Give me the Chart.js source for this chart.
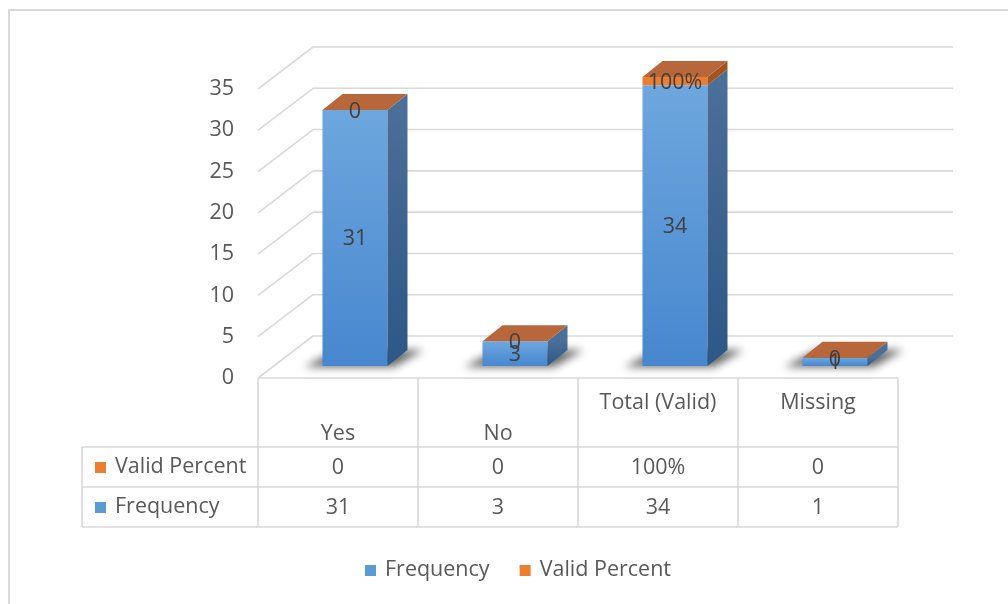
<!DOCTYPE html>
<html>
<head>
<meta charset="utf-8">
<script src="https://cdn.jsdelivr.net/npm/chart.js@4.4.1/dist/chart.umd.min.js"></script>
<style>
  html, body { margin: 0; padding: 0; background: #ffffff; }
  #wrap { width: 1008px; height: 604px; position: relative; }
</style>
</head>
<body>
<div id="wrap"><canvas id="chart" width="1008" height="604"></canvas></div>
<script>
// Category labels (header cells of the data table; blank line keeps wrapping as laid out)
const categories = [['', 'Yes'], ['', 'No'], ['Total (Valid)', ''], ['Missing', '']];
// Series values
const frequency = [31, 3, 34, 1];
const validPercent = [0, 0, 1, 0];
const seriesNames = ['Frequency', 'Valid Percent'];
// Value axis
const yMin = 0, yMax = 35, yStep = 5;

const FONT = '"Open Sans", "DejaVu Sans", sans-serif';
const FSIZE = 21.5;
const TEXT = '#595959';
const GRID = '#d9d9d9';
const BLUE = '#5b9bd5';
const ORANGE = '#ed7d31';

// 3D geometry: wall depth, bar placement in depth, bar thickness
const WALL = { dx: 55, dy: -42 };
const SHIFT = { dx: 17, dy: -12 };
const DEPTH = { dx: 20, dy: -16 };

const fmtValid = v => v === 0 ? '0' : Math.round(v * 100) + '%';
const fmtFreq = v => String(v);

function frontGradient(ctx) {
  const chart = ctx.chart;
  const ys = chart.scales.y;
  if (!chart.chartArea || !ys || ctx.dataIndex === undefined) return BLUE;
  const top = ys.getPixelForValue(frequency[ctx.dataIndex]);
  const base = ys.getPixelForValue(0);
  if (!isFinite(top) || !isFinite(base) || top === base) return BLUE;
  const g = chart.ctx.createLinearGradient(0, top, 0, base);
  g.addColorStop(0, '#6ea7de');
  g.addColorStop(1, '#4787cf');
  return g;
}

function poly(ctx, pts, fill) {
  ctx.beginPath();
  ctx.moveTo(pts[0][0], pts[0][1]);
  for (let i = 1; i < pts.length; i++) ctx.lineTo(pts[i][0], pts[i][1]);
  ctx.closePath();
  ctx.fillStyle = fill;
  ctx.fill();
}

function line(ctx, x1, y1, x2, y2) {
  ctx.beginPath();
  ctx.moveTo(x1, y1);
  ctx.lineTo(x2, y2);
  ctx.stroke();
}

const scenePlugin = {
  id: 'scene3d',
  beforeDatasetsDraw(chart) {
    const { ctx, chartArea: a } = chart;
    const ys = chart.scales.y;
    // side wall and back wall gridlines
    ctx.save();
    ctx.strokeStyle = GRID;
    ctx.lineWidth = 1.6;
    ys.ticks.forEach(t => {
      const yf = ys.getPixelForValue(t.value);
      line(ctx, a.left, yf, a.left + WALL.dx, yf + WALL.dy);
      line(ctx, a.left + WALL.dx, yf + WALL.dy, a.right + WALL.dx, yf + WALL.dy);
    });
    ctx.restore();

    // bars sit part-way into the depth
    ctx.save();
    ctx.translate(SHIFT.dx, SHIFT.dy);

    // soft floor shadows beneath each bar
    const meta = chart.getDatasetMeta(0);
    meta.data.forEach(el => {
      const p = el.getProps(['x', 'base', 'width'], true);
      const xl = p.x - p.width / 2, xr = p.x + p.width / 2, b = p.base;
      ctx.save();
      ctx.filter = 'blur(4px)';
      poly(ctx, [
        [xl - 18, b + 1], [xr + 6, b + 1],
        [xr + DEPTH.dx + 16, b + DEPTH.dy], [xl + DEPTH.dx - 6, b + DEPTH.dy]
      ], 'rgba(0,0,0,0.6)');
      ctx.restore();
    });
  },
  afterDatasetsDraw(chart) {
    const { ctx } = chart;
    const m0 = chart.getDatasetMeta(0);
    const m1 = chart.getDatasetMeta(1);

    m0.data.forEach((el, i) => {
      const p = el.getProps(['x', 'y', 'base', 'width'], true);
      const xr = p.x + p.width / 2;
      // right side of the frequency block
      const g = ctx.createLinearGradient(0, p.y, 0, p.base);
      g.addColorStop(0, '#4a6f98');
      g.addColorStop(1, '#2d5787');
      poly(ctx, [[xr, p.y], [xr + DEPTH.dx, p.y + DEPTH.dy], [xr + DEPTH.dx, p.base + DEPTH.dy], [xr, p.base]], g);

      // valid percent block stacked on top
      const q = m1.data[i].getProps(['x', 'y', 'base', 'width'], true);
      const ql = q.x - q.width / 2, qr = q.x + q.width / 2;
      if (q.base - q.y > 0.5) {
        poly(ctx, [[qr, q.y], [qr + DEPTH.dx, q.y + DEPTH.dy], [qr + DEPTH.dx, q.base + DEPTH.dy], [qr, q.base]], '#a4551f');
      }
      // top face
      poly(ctx, [[ql, q.y], [ql + DEPTH.dx, q.y + DEPTH.dy], [qr + DEPTH.dx, q.y + DEPTH.dy], [qr, q.y]], '#b8673a');
    });

    // data labels
    ctx.fillStyle = '#404040';
    ctx.font = FSIZE + 'px ' + FONT;
    ctx.textAlign = 'center';
    ctx.textBaseline = 'middle';
    m0.data.forEach((el, i) => {
      const p = el.getProps(['x', 'y', 'base'], true);
      ctx.fillText(fmtFreq(frequency[i]), p.x, (p.y + p.base) / 2 + 1);
    });
    m1.data.forEach((el, i) => {
      const p = el.getProps(['x', 'y', 'base'], true);
      ctx.fillText(fmtValid(validPercent[i]), p.x, (p.y + p.base) / 2 + 2);
    });
    ctx.restore();
  },
  afterDraw(chart) {
    const { ctx, chartArea: a } = chart;
    const xs = chart.scales.x;
    const colW = (a.right - a.left) / categories.length;
    const tableLeft = 82;
    const headTop = a.bottom, row1 = 447, row2 = 487, tableBottom = 527;

    ctx.save();
    // data table grid
    ctx.strokeStyle = GRID;
    ctx.lineWidth = 1.6;
    line(ctx, a.left, headTop, a.right, headTop);
    [row1, row2, tableBottom].forEach(y => line(ctx, tableLeft, y, a.right, y));
    line(ctx, tableLeft, row1, tableLeft, tableBottom);
    for (let i = 0; i <= categories.length; i++) {
      const x = a.left + i * colW;
      line(ctx, x, headTop, x, tableBottom);
    }

    ctx.font = FSIZE + 'px ' + FONT;
    ctx.fillStyle = TEXT;
    ctx.textBaseline = 'middle';
    ctx.textAlign = 'center';
    categories.forEach((lines, i) => {
      const cx = xs.getPixelForValue(i);
      lines.forEach((t, k) => ctx.fillText(t, cx, headTop + 25 + k * 31));
    });

    // series rows: Valid Percent above Frequency
    const rows = [
      { name: seriesNames[1], color: ORANGE, vals: validPercent.map(fmtValid), y: (row1 + row2) / 2 },
      { name: seriesNames[0], color: BLUE, vals: frequency.map(fmtFreq), y: (row2 + tableBottom) / 2 }
    ];
    rows.forEach(r => {
      ctx.fillStyle = r.color;
      ctx.fillRect(95, r.y - 5, 11, 11);
      ctx.fillStyle = TEXT;
      ctx.textAlign = 'left';
      ctx.fillText(r.name, 115, r.y);
      ctx.textAlign = 'center';
      r.vals.forEach((v, i) => ctx.fillText(v, xs.getPixelForValue(i), r.y + 1));
    });

    // legend
    const items = [{ name: seriesNames[0], color: BLUE }, { name: seriesNames[1], color: ORANGE }];
    const widths = items.map(it => 11 + 9 + ctx.measureText(it.name).width);
    const total = widths.reduce((s, w) => s + w, 0) + 30 * (items.length - 1);
    let x = 518 - total / 2;
    const ly = 570;
    items.forEach((it, i) => {
      ctx.fillStyle = it.color;
      ctx.fillRect(x, ly - 5, 11, 11);
      ctx.fillStyle = TEXT;
      ctx.textAlign = 'left';
      ctx.fillText(it.name, x + 20, ly);
      x += widths[i] + 30;
    });

    // chart frame
    ctx.strokeStyle = GRID;
    ctx.lineWidth = 2;
    ctx.strokeRect(9, 10, 1100, 700);
    ctx.restore();
  }
};

new Chart(document.getElementById('chart'), {
  type: 'bar',
  data: {
    labels: categories,
    datasets: [
      { label: seriesNames[0], data: frequency, backgroundColor: frontGradient, borderWidth: 0, clip: false },
      { label: seriesNames[1], data: validPercent, backgroundColor: ORANGE, borderWidth: 0, clip: false }
    ]
  },
  options: {
    responsive: false,
    animation: false,
    devicePixelRatio: 1,
    layout: { padding: { left: 0, right: 110, top: 89, bottom: 226 } },
    datasets: { bar: { categoryPercentage: 1, barPercentage: 65 / 160 } },
    plugins: { legend: { display: false }, tooltip: { enabled: false } },
    scales: {
      x: { display: false, stacked: true },
      y: {
        stacked: true,
        min: yMin,
        max: yMax,
        afterFit(scale) { scale.width = 258; },
        grid: { display: false, drawTicks: false },
        border: { display: false },
        ticks: { stepSize: yStep, padding: 24, color: TEXT, font: { family: FONT, size: FSIZE } }
      }
    }
  },
  plugins: [scenePlugin]
});
</script>
</body>
</html>
